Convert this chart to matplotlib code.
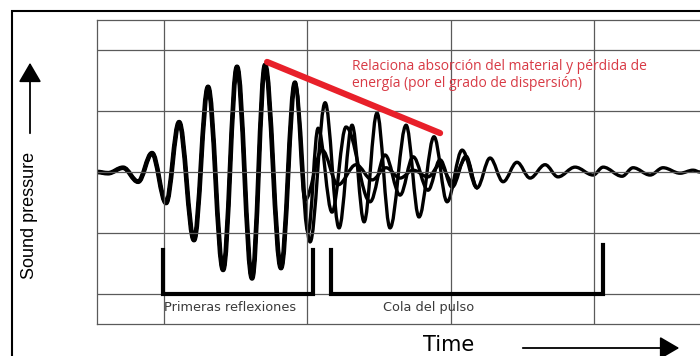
import matplotlib
matplotlib.use("Agg")
import matplotlib.pyplot as plt
from matplotlib.path import Path
from matplotlib.patches import PathPatch, Rectangle, FancyArrowPatch

# --- data: extrema of the pressure trace (time in grid units x10, pressure in grid units)
head_t = [-4.68, -3.91, -2.86, -1.81, -0.84, 0.14, 1.05, 2.09, 3.07, 4.12, 5.09, 6.14, 7.05, 8.16, 9.14]
head_p = [0.00, -0.02, 0.07, -0.16, 0.31, -0.51, 0.82, -1.12, 1.40, -1.61, 1.73, -1.75, 1.76, -1.58, 1.47]

tail_a_t = [10.19, 11.24, 12.21, 13.12, 13.96, 14.86, 15.77, 16.89, 17.79, 18.84, 19.75, 20.80, 21.84,
            22.75, 23.66, 24.63, 25.54, 26.59, 27.49, 28.68, 29.94, 30.64, 31.96, 32.73, 33.92, 34.82,
            36.01, 36.92, 37.40]
tail_a_p = [-1.15, 1.14, -0.92, 0.77, -0.82, 0.97, -0.92, 0.77, -0.74, 0.58, -0.49, 0.36, -0.26,
            0.23, -0.16, 0.16, -0.10, 0.12, -0.08, 0.08, -0.05, 0.08, -0.07, 0.07, -0.05, 0.07,
            -0.02, 0.03, 0.00]

tail_b_t = [10.05, 10.75, 11.72, 12.70, 14.38, 15.42, 16.47, 17.38, 18.42, 19.26, 20.10, 21.07, 21.84]
tail_b_p = [-0.99, 0.72, -0.66, 0.74, -0.49, 0.28, -0.38, 0.25, -0.30, 0.20, -0.25, 0.26, -0.26]

tail_c_t = [9.84, 11.03, 12.14, 13.40, 14.52, 15.49, 16.47, 17.38, 18.42, 19.26, 20.10, 21.07, 21.84]
tail_c_p = [-0.46, 0.36, -0.21, 0.12, -0.13, 0.07, -0.10, 0.03, -0.08, 0.12, -0.16, 0.23, -0.26]

# red decay line (peak envelope)
envelope_t = [7.19, 19.26]
envelope_p = [1.81, 0.64]

# brackets: (start, end, left height, right height)
brackets = [(-0.07, 10.40, -1.28, -1.28), (11.65, 30.64, -1.28, -1.20)]
bracket_base = -2.01
bracket_labels = ["Primeras reflexiones", "Cola del pulso"]
label_t = [0.0, 15.28]

note_lines = ["Relaciona absorción del material y pérdida de",
              "energía (por el grado de dispersión)"]


def smooth_path(xs, ys, k=0.36):
    """Cubic segments with flat tangents at every extremum."""
    verts = [(xs[0], ys[0])]
    codes = [Path.MOVETO]
    for i in range(len(xs) - 1):
        dx = xs[i + 1] - xs[i]
        verts += [(xs[i] + k * dx, ys[i]), (xs[i + 1] - k * dx, ys[i + 1]), (xs[i + 1], ys[i + 1])]
        codes += [Path.CURVE4] * 3
    return Path(verts, codes)


fig = plt.figure(figsize=(7.0, 3.56), dpi=100)
ax = fig.add_axes([97 / 700, 32 / 356, 603 / 700, 304 / 356])
ax.set_xlim(-4.68, 37.4)
ax.set_ylim(-2.5, 2.5)
ax.set_xticks([0, 10, 20, 30])
ax.set_yticks([-2, -1, 0, 1, 2])
ax.grid(True, color="#5a5a5a", lw=0.9)
ax.tick_params(length=0, labelbottom=False, labelleft=False)
for side in ["left", "top", "bottom"]:
    ax.spines[side].set_color("#5a5a5a")
    ax.spines[side].set_linewidth(0.9)
ax.spines["right"].set_visible(False)

for tt, pp in [(tail_b_t, tail_b_p), (tail_c_t, tail_c_p), (tail_a_t, tail_a_p)]:
    path = smooth_path(head_t + tt, head_p + pp)
    ax.add_patch(PathPatch(path, fill=False, lw=2.4, ec="black", capstyle="round", joinstyle="round"))
ax.add_patch(PathPatch(smooth_path(head_t, head_p), fill=False, lw=3.4, ec="black",
                       capstyle="round", joinstyle="round"))

ax.plot(envelope_t, envelope_p, color="#e8202a", lw=4.5, solid_capstyle="round")

for (t0, t1, h0, h1) in brackets:
    ax.plot([t0, t0, t1, t1], [h0, bracket_base, bracket_base, h1], color="black", lw=3,
            solid_joinstyle="miter")
for lbl, t in zip(bracket_labels, label_t):
    ax.text(t, -2.23, lbl, fontsize=9.3, color="#3a3a3a", va="center", ha="left",
            family="DejaVu Sans")

ax.text(13.12, 1.73, note_lines[0], fontsize=10, color="#d83a45", va="center", family="Open Sans")
ax.text(13.12, 1.45, note_lines[1], fontsize=10, color="#d83a45", va="center", family="Open Sans")

# outer frame and axis captions
fig.add_artist(Rectangle((12 / 700, -0.1), 1.2, 1.1 - 11 / 356, transform=fig.transFigure,
                         fill=False, ec="black", lw=1.5))
fig.text(30 / 700, 1 - 215 / 356, "Sound pressure", rotation=90, fontsize=13,
         family="Liberation Sans", ha="center", va="center")
fig.add_artist(FancyArrowPatch((30 / 700, 1 - 136 / 356), (30 / 700, 1 - 60 / 356),
                               transform=fig.transFigure, arrowstyle="-|>,head_length=6,head_width=3.5",
                               color="black", lw=1.3, mutation_scale=2))
fig.text(449 / 700, 1 - 355 / 356, "Time", fontsize=15, family="DejaVu Sans", ha="center", va="bottom")
fig.add_artist(FancyArrowPatch((520 / 700, 1 - 348 / 356), (682 / 700, 1 - 348 / 356),
                               transform=fig.transFigure, arrowstyle="-|>,head_length=6,head_width=3.5",
                               color="black", lw=1.3, mutation_scale=2))

fig.savefig("out.png", dpi=100)
